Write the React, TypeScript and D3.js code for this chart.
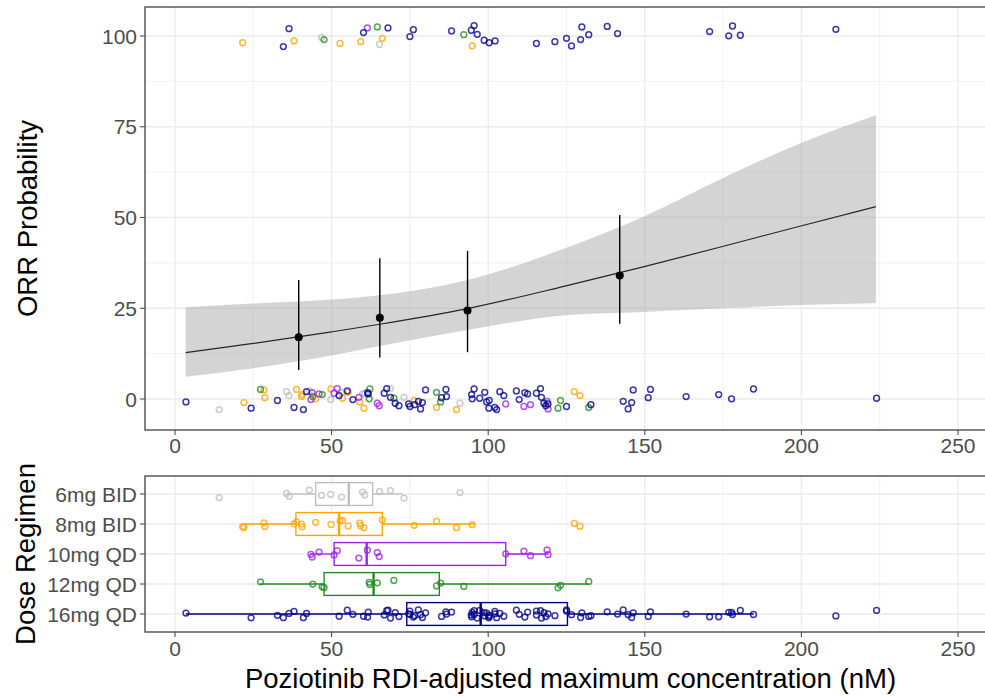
import React from "react";
import * as d3 from "d3";

// ---------- data ----------
const REGIMENS = ["6mg BID", "8mg BID", "10mg QD", "12mg QD", "16mg QD"];
const REG_COLORS = ["#BEBEBE", "#FFA500", "#A020F0", "#228B22", "#00008B"];

// concentrations (nM) of responders / non-responders for each regimen
const RESP_6 = [46.8, 65.3];
const NONRESP_6 = [14.1, 35.6, 36.4, 42.9, 49.7, 53.2, 59.9, 60.6, 68.8, 73.1, 91];
const RESP_8 = [21.6, 38, 52.7, 59.3, 66.2, 94.9];
const NONRESP_8 = [22, 28.4, 28.7, 38.8, 40.4, 40.6, 44.9, 49.8, 53.5, 55.3, 59, 60.3, 76.4, 83.5, 89.9, 127.5, 129.3];
const RESP_10 = [61.4];
const NONRESP_10 = [43.4, 43.8, 46, 50.8, 51.8, 58.7, 64.6, 65.2, 105.6, 111.4, 113.5, 118.8, 119.1];
const RESP_12 = [47.6, 64.6, 92.2];
const NONRESP_12 = [27.3, 44, 47, 62, 62.2, 69.9, 83.5, 84.8, 122.3, 123.1, 132.1];
const RESP_16 = [34.6, 36.4, 60.2, 68, 75, 76.1, 88.3, 94.6, 95.5, 96.5, 98.7, 100.3, 102.2, 115.4, 121.3, 125, 126.6, 129.5, 129.9, 132.1, 138, 141.3, 170.7, 176.8, 178, 180.5, 211];
const NONRESP_16 = [3.5, 24.3, 32.7, 38, 41, 42, 52.4, 55, 56.8, 61.5, 61.7, 66.8, 67.6, 68.8, 70.3, 71.5, 74.6, 75, 76.5, 77.7, 78.4, 79, 80, 85.1, 86.5, 86.7, 94.7, 94.9, 95.5, 97.3, 98.9, 99.5, 100.2, 100.3, 102.1, 102.7, 103.7, 105, 109, 109.9, 111.7, 112.6, 115.4, 116.7, 117, 117.8, 118.4, 119.1, 125, 132.8, 143.1, 144.7, 145.8, 146.3, 151.1, 151.8, 163.2, 173.6, 177.7, 184.7, 224];

const RESPONDERS = [RESP_6, RESP_8, RESP_10, RESP_12, RESP_16];
const NONRESPONDERS = [NONRESP_6, NONRESP_8, NONRESP_10, NONRESP_12, NONRESP_16];

// boxplot statistics per regimen
const BOX_LO = [35.6, 21.8, 43.1, 27.1, 3.5];
const BOX_Q1 = [44.9, 38.6, 50.8, 47.6, 74];
const BOX_MED = [55.5, 52.4, 61.2, 63.4, 97.6];
const BOX_Q3 = [63.1, 66.2, 105.6, 84.4, 125.3];
const BOX_HI = [72.8, 95.7, 119.2, 132.1, 184.8];

// observed response by concentration quartile (%)
const BIN_X = [39.5, 65.4, 93.4, 142];
const BIN_P = [17, 22.4, 24.4, 34];
const BIN_LO = [8, 11.4, 12.9, 20.7];
const BIN_HI = [32.8, 38.8, 40.8, 50.7];

// logistic model prediction (%) and 95% CI
const CURVE_X = [3.4, 25, 50, 65.4, 93.4, 124.5, 149.5, 174.8, 199.5, 223.8];
const CURVE_P = [12.8, 15.3, 18.5, 20.6, 24.9, 31.1, 36.4, 42, 47.6, 53];
const BAND_LO = [6.1, 8.5, 12, 14.6, 19, 23.1, 24, 25, 25.9, 26.4];
const BAND_HI = [25.3, 26.3, 27.4, 28.6, 32.8, 41.5, 50.2, 60.8, 70.4, 78.2];

const X_TICKS = [0, 50, 100, 150, 200, 250];
const X_MINOR = [25, 75, 125, 175, 225];
const Y_TICKS = [0, 25, 50, 75, 100];
const Y_MINOR = [12.5, 37.5, 62.5, 87.5];

// fixed jitter pattern (fractions of the jitter width)
const JIT = [0.31, -0.62, 0.88, -0.14, 0.53, -0.91, 0.07, 0.74, -0.45, 0.22, -0.78, 0.96, -0.33, 0.61, -0.05, -0.69, 0.41, -0.97, 0.15, 0.83, -0.27, 0.58, -0.52, 0.02, 0.67, -0.39, 0.12, -0.84, 0.47, -0.21, 0.92];

// ---------- layout ----------
const W = 985;
const H = 696;
const TOP = { l: 145, t: 7, r: 995, b: 430 };
const BOT = { l: 145, t: 476, r: 995, b: 632 };
const FONT = "'Liberation Sans', Arial, sans-serif";
const GRID = "#ebebeb";
const AXIS = "#4d4d4d";

export default function App() {
  const x = d3.scaleLinear().domain([0, 250]).range([175, 958]);
  const yTop = d3.scaleLinear().domain([0, 100]).range([399, 36]);
  const yBot = d3.scalePoint<string>().domain(REGIMENS).range([494, 614]);
  const step = yBot.step();

  type Pt = { conc: number; resp: number; reg: number; idx: number };
  const pts: Pt[] = [];
  let k = 0;
  REGIMENS.forEach((_, r) => {
    RESPONDERS[r].forEach((c) => pts.push({ conc: c, resp: 1, reg: r, idx: k++ }));
    NONRESPONDERS[r].forEach((c) => pts.push({ conc: c, resp: 0, reg: r, idx: k++ }));
  });

  const area = d3
    .area<number>()
    .x((_, i) => x(CURVE_X[i]))
    .y0((_, i) => yTop(BAND_LO[i]))
    .y1((_, i) => yTop(BAND_HI[i]))
    .curve(d3.curveMonotoneX);
  const line = d3
    .line<number>()
    .x((_, i) => x(CURVE_X[i]))
    .y((d) => yTop(d))
    .curve(d3.curveMonotoneX);

  const boxH = step * 0.76;
  const PR = 2.9;

  return (
    <svg
      width={W}
      height={H}
      style={{ position: "absolute", left: 0, top: 0, display: "block", background: "#fff" }}
      fontFamily={FONT}
    >
      <defs>
        <clipPath id="clipTop">
          <rect x={TOP.l} y={TOP.t} width={TOP.r - TOP.l} height={TOP.b - TOP.t} />
        </clipPath>
        <clipPath id="clipBot">
          <rect x={BOT.l} y={BOT.t} width={BOT.r - BOT.l} height={BOT.b - BOT.t} />
        </clipPath>
      </defs>
      <rect x={0} y={0} width={W} height={H} fill="#fff" />

      {/* ---------- top panel ---------- */}
      <g clipPath="url(#clipTop)">
        {Y_MINOR.map((v) => (
          <line key={"ym" + v} x1={TOP.l} x2={TOP.r} y1={yTop(v)} y2={yTop(v)} stroke={GRID} strokeWidth={0.7} />
        ))}
        {X_MINOR.map((v) => (
          <line key={"xm" + v} x1={x(v)} x2={x(v)} y1={TOP.t} y2={TOP.b} stroke={GRID} strokeWidth={0.7} />
        ))}
        {Y_TICKS.map((v) => (
          <line key={"yg" + v} x1={TOP.l} x2={TOP.r} y1={yTop(v)} y2={yTop(v)} stroke={GRID} strokeWidth={1.3} />
        ))}
        {X_TICKS.map((v) => (
          <line key={"xg" + v} x1={x(v)} x2={x(v)} y1={TOP.t} y2={TOP.b} stroke={GRID} strokeWidth={1.3} />
        ))}
        <path d={area(CURVE_P) || ""} fill="#a6a6a6" fillOpacity={0.48} />
        <path d={line(CURVE_P) || ""} fill="none" stroke="#262626" strokeWidth={1.2} />
        {BIN_X.map((bx, i) => (
          <g key={"bin" + i}>
            <line x1={x(bx)} x2={x(bx)} y1={yTop(BIN_LO[i])} y2={yTop(BIN_HI[i])} stroke="#000" strokeWidth={1.4} />
            <circle cx={x(bx)} cy={yTop(BIN_P[i])} r={4} fill="#000" />
          </g>
        ))}
        {pts.map((p) => (
          <circle
            key={"tp" + p.idx}
            cx={x(p.conc)}
            cy={yTop(p.resp * 100 + 3 * JIT[(p.idx * 7 + 3) % JIT.length])}
            r={PR}
            fill="none"
            stroke={REG_COLORS[p.reg]}
            strokeOpacity={0.78}
            strokeWidth={1.5}
          />
        ))}
      </g>
      <rect x={TOP.l} y={TOP.t} width={TOP.r - TOP.l} height={TOP.b - TOP.t} fill="none" stroke={AXIS} strokeWidth={1.4} />
      {Y_TICKS.map((v) => (
        <g key={"yt" + v}>
          <line x1={TOP.l - 5} x2={TOP.l} y1={yTop(v)} y2={yTop(v)} stroke={AXIS} strokeWidth={1.1} />
          <text x={TOP.l - 8} y={yTop(v)} dy="0.36em" textAnchor="end" fontSize={21} fill={AXIS}>
            {v}
          </text>
        </g>
      ))}
      {X_TICKS.map((v) => (
        <g key={"xt" + v}>
          <line x1={x(v)} x2={x(v)} y1={TOP.b} y2={TOP.b + 5} stroke={AXIS} strokeWidth={1.1} />
          <text x={x(v)} y={TOP.b + 23} textAnchor="middle" fontSize={21} fill={AXIS}>
            {v}
          </text>
        </g>
      ))}
      <text
        transform={`translate(27,${(TOP.t + TOP.b) / 2}) rotate(-90)`}
        textAnchor="middle"
        dy="0.35em"
        fontSize={27.5}
        fill="#000"
      >
        ORR Probability
      </text>

      {/* ---------- bottom panel ---------- */}
      <g clipPath="url(#clipBot)">
        {X_MINOR.map((v) => (
          <line key={"bxm" + v} x1={x(v)} x2={x(v)} y1={BOT.t} y2={BOT.b} stroke={GRID} strokeWidth={0.7} />
        ))}
        {X_TICKS.map((v) => (
          <line key={"bxg" + v} x1={x(v)} x2={x(v)} y1={BOT.t} y2={BOT.b} stroke={GRID} strokeWidth={1.3} />
        ))}
        {REGIMENS.map((r) => (
          <line key={"byg" + r} x1={BOT.l} x2={BOT.r} y1={yBot(r)} y2={yBot(r)} stroke={GRID} strokeWidth={1.3} />
        ))}
        {REGIMENS.map((r, i) => {
          const cy = yBot(r) as number;
          const c = REG_COLORS[i];
          return (
            <g key={"box" + r}>
              <line x1={x(BOX_LO[i])} x2={x(BOX_Q1[i])} y1={cy} y2={cy} stroke={c} strokeWidth={1.3} />
              <line x1={x(BOX_Q3[i])} x2={x(BOX_HI[i])} y1={cy} y2={cy} stroke={c} strokeWidth={1.3} />
              <rect
                x={x(BOX_Q1[i])}
                y={cy - boxH / 2}
                width={x(BOX_Q3[i]) - x(BOX_Q1[i])}
                height={boxH}
                fill="#fff"
                stroke={c}
                strokeWidth={1.4}
              />
              <line x1={x(BOX_MED[i])} x2={x(BOX_MED[i])} y1={cy - boxH / 2} y2={cy + boxH / 2} stroke={c} strokeWidth={2.4} />
            </g>
          );
        })}
        {pts.map((p) => (
          <circle
            key={"bp" + p.idx}
            cx={x(p.conc)}
            cy={(yBot(REGIMENS[p.reg]) as number) + 4.2 * JIT[p.idx % JIT.length]}
            r={PR}
            fill="none"
            stroke={REG_COLORS[p.reg]}
            strokeOpacity={0.78}
            strokeWidth={1.5}
          />
        ))}
      </g>
      <rect x={BOT.l} y={BOT.t} width={BOT.r - BOT.l} height={BOT.b - BOT.t} fill="none" stroke={AXIS} strokeWidth={1.4} />
      {REGIMENS.map((r) => (
        <g key={"byt" + r}>
          <line x1={BOT.l - 5} x2={BOT.l} y1={yBot(r)} y2={yBot(r)} stroke={AXIS} strokeWidth={1.1} />
          <text x={BOT.l - 8} y={yBot(r)} dy="0.36em" textAnchor="end" fontSize={21} fill={AXIS}>
            {r}
          </text>
        </g>
      ))}
      {X_TICKS.map((v) => (
        <g key={"bxt" + v}>
          <line x1={x(v)} x2={x(v)} y1={BOT.b} y2={BOT.b + 5} stroke={AXIS} strokeWidth={1.1} />
          <text x={x(v)} y={BOT.b + 24} textAnchor="middle" fontSize={21} fill={AXIS}>
            {v}
          </text>
        </g>
      ))}
      <text
        transform={`translate(25,${(BOT.t + BOT.b) / 2}) rotate(-90)`}
        textAnchor="middle"
        dy="0.35em"
        fontSize={27.5}
        fill="#000"
      >
        Dose Regimen
      </text>
      <text x={(175 + 958) / 2 + 4} y={688} textAnchor="middle" fontSize={27.5} fill="#000">
        Poziotinib RDI-adjusted maximum concentration (nM)
      </text>
    </svg>
  );
}
